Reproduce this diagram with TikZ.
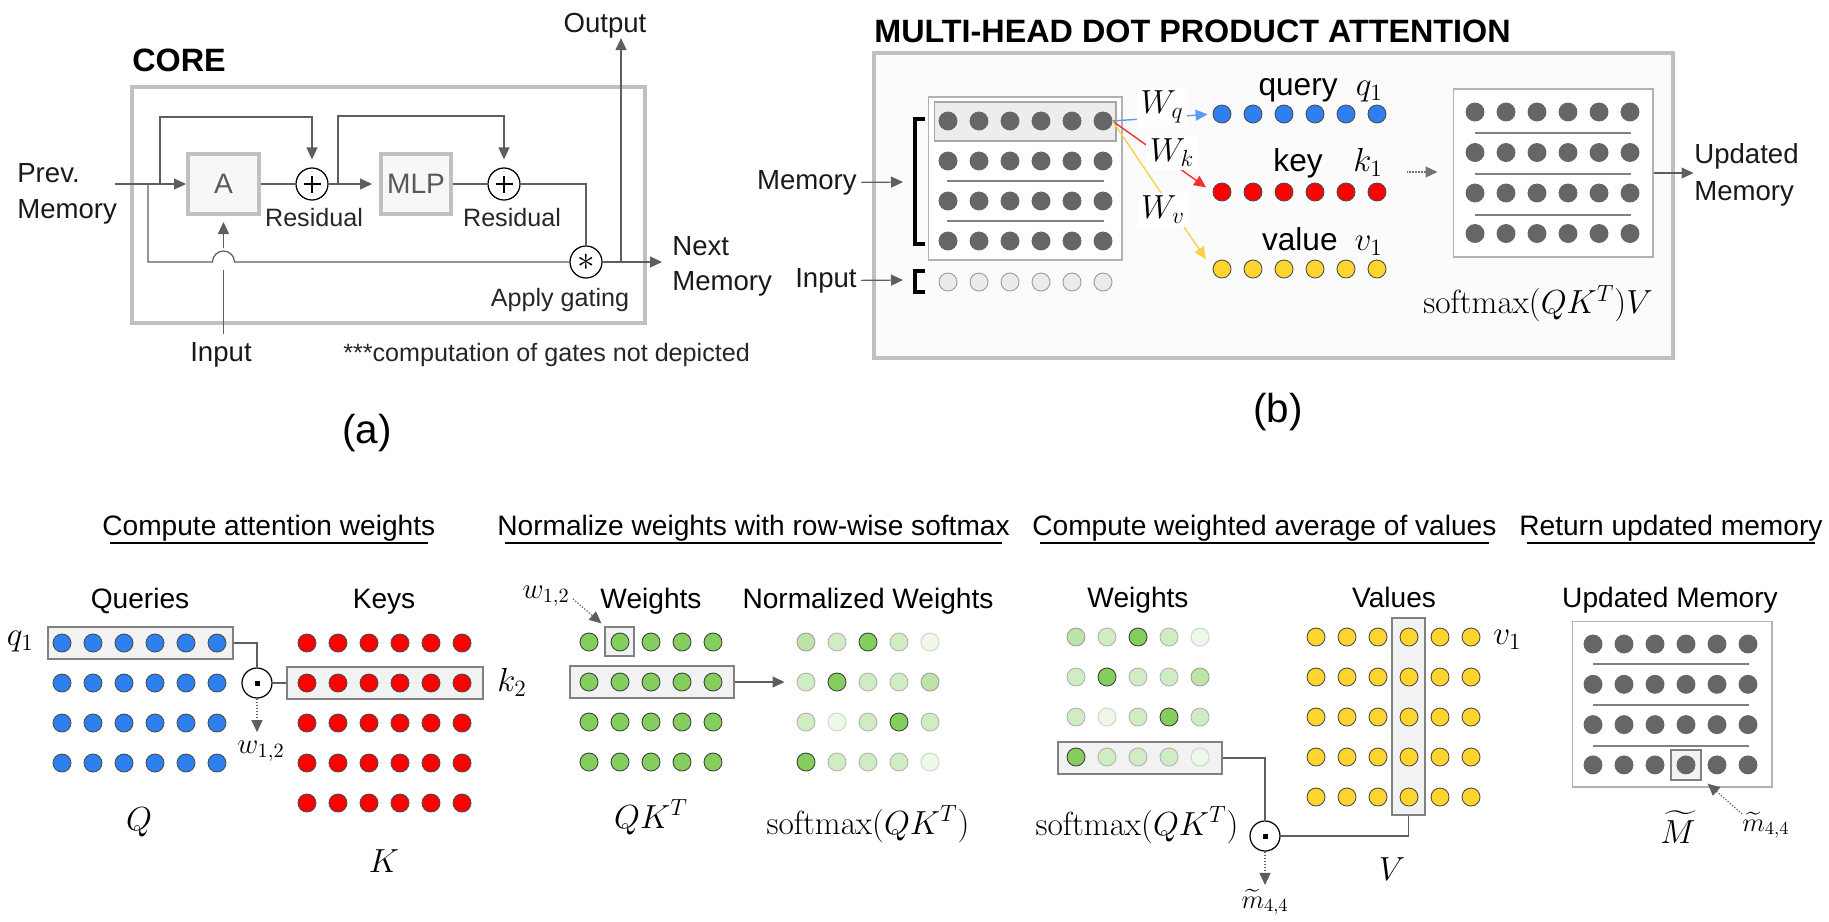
\RequirePackage{fix-cm}
\documentclass[tikz,border=0pt]{standalone}
\usepackage[no-math]{fontspec}
\setmainfont{Liberation Sans}
\usepackage{amsmath}
\usetikzlibrary{arrows.meta,calc,positioning}

\definecolor{qblue}{HTML}{2E80F0}
\definecolor{kred}{HTML}{FF0000}
\definecolor{vyellow}{HTML}{FFD42C}
\definecolor{wgreen}{HTML}{84CE5E}
\definecolor{memgray}{HTML}{666666}
\definecolor{framegray}{HTML}{C0C0C0}
\definecolor{linegray}{HTML}{5E5E5E}
\definecolor{wqblue}{HTML}{5C9CF5}
\definecolor{wkred}{HTML}{F23030}
\definecolor{wvyellow}{HTML}{F9D24A}

% shade / border of the weight dots, row by row
\newcommand{\wshades}{{55/38,38/30,100/75,38/30,15/18},{38/30,100/75,38/30,38/30,55/38},{38/30,15/18,38/30,100/75,38/30},{100/75,38/30,38/30,38/30,15/18}}

\begin{document}
\begin{tikzpicture}[x=0.02cm,y=-0.02cm,
  every node/.style={inner sep=0pt},
  conn/.style={draw=linegray, line width=0.7pt},
  arr/.style={conn, -{Triangle[length=0.24cm,width=0.22cm]}},
  dotarr/.style={draw=linegray, line width=0.7pt, densely dotted, -{Triangle[length=0.24cm,width=0.22cm]}},
  coreframe/.style={draw=framegray, line width=0.07cm},
  blk/.style={draw=framegray, line width=0.08cm, fill=black!3, text=black!65, font=\fontsize{16}{19}\selectfont},
  op/.style={circle, draw=black, line width=0.7pt, fill=white, minimum size=0.64cm, font=\fontsize{20}{20}\selectfont},
  plusop/.style={op, path picture={
      \draw[line width=1.1pt] ([xshift=-0.17cm]path picture bounding box.center) -- ([xshift=0.17cm]path picture bounding box.center)
        ([yshift=-0.17cm]path picture bounding box.center) -- ([yshift=0.17cm]path picture bounding box.center);}},
  hlbox/.style={draw=black!50, fill=black!5, line width=0.7pt},
  matbox/.style={draw=black!30, fill=white, line width=0.6pt},
  dot/.style={circle, minimum size=0.36cm, line width=0.5pt},
  qdot/.style={dot, fill=qblue, draw=black!70},
  kdot/.style={dot, fill=kred, draw=black!70},
  vdot/.style={dot, fill=vyellow, draw=black!70},
  mdot/.style={dot, fill=memgray, draw=memgray},
  idot/.style={dot, fill=black!8, draw=black!40},
  lblS/.style={font=\fontsize{14.3}{17}\selectfont, text=black!85},
  lblM/.style={font=\fontsize{15.7}{19}\selectfont, text=black!90},
  lblL/.style={font=\fontsize{18}{21}\selectfont},
  ttl/.style={font=\fontsize{18.4}{22}\selectfont\bfseries},
  sec/.style={font=\fontsize{16}{19}\selectfont},
  capt/.style={font=\fontsize{23}{27}\selectfont},
  mth/.style={font=\fontsize{19}{23}\selectfont},
  mthS/.style={font=\fontsize{16.5}{19}\selectfont},
  mthXS/.style={font=\fontsize{15}{18}\selectfont}]
\useasboundingbox (0,0) rectangle (1829,921);

% ---------------- (a) core
\node[ttl, anchor=base west] (core) at (132,71) {CORE};
\draw[coreframe] (132,87) rectangle (645,323);
\node[blk, minimum width=1.42cm, minimum height=1.2cm] (A) at (223.5,184) {A};
\node[blk, minimum width=1.40cm, minimum height=1.2cm] (mlp) at (416,184) {MLP};
\node[plusop] (res1) at (312,184) {};
\node[plusop] (res2) at (504,184) {};
\node[op] (gate) at (586,262) {$\ast$};
\node[lblS, anchor=base] (res1lbl) at (314,226) {Residual};
\node[lblS, anchor=base] (res2lbl) at (512,226) {Residual};
\node[lblS, anchor=base] (gatelbl) at (560,306) {Apply gating};
\node[lblM, anchor=base west] (prev) at (17,182) {Prev.};
\node[lblM, anchor=base west] (prevmem) at (17,218) {Memory};
\node[lblM, anchor=base west] (next) at (672,255) {Next};
\node[lblM, anchor=base west] (nextmem) at (672,290) {Memory};
\node[lblM, anchor=base] (out) at (605,32) {Output};
\node[lblM, anchor=base] (inp) at (221,361) {Input};
\node[lblS, anchor=base west] (note) at (343,361) {***computation of gates not depicted};
\node[capt, anchor=base] (capa) at (367,443) {(a)};
\coordinate (pm) at (115,184);
\coordinate (br1) at (148,184);
\coordinate (br2) at (160,184);
\coordinate (br3) at (338,184);
\coordinate (nm) at (662,262);
\coordinate (outj) at (621,262);
\draw[arr] (pm) -- (A.west);
\draw[arr, shorten >=0.16cm] (br2) -- (160,117) -| (res1.north);
\draw[conn] (A.east) -- (res1.west);
\draw[arr, shorten >=0.14cm] (res1.east) -- (mlp.west);
\draw[arr, shorten >=0.16cm] (br3) -- (338,116) -| (res2.north);
\draw[conn] (mlp.east) -- (res2.west);
\draw[conn] (res2.east) -| (gate.north);
\draw[conn] (br1) -- (148,262) -- (212.5,262) arc[start angle=180,end angle=0,radius=0.22cm] -- (gate.west);
\draw[arr] (gate.east) -- (nm);
\draw[arr] (outj) -- (outj |- out.south);
\draw[conn] ($(inp.north -| A.south)+(0,-8)$) -- (223.5,270);
\draw[arr, shorten >=0.12cm] (223.5,248) -- (A.south);

% ---------------- (b) multi-head attention
\node[ttl, anchor=base west] (mhdpa) at (874,42) {MULTI-HEAD DOT PRODUCT ATTENTION};
\draw[coreframe, fill=black!1.5] (874,53) rectangle (1673,358);
\node[lblM, anchor=base east] (memlbl) at (857,189) {Memory};
\node[lblM, anchor=base east] (inlbl) at (857,287) {Input};
\coordinate (memtip) at (903,182);
\coordinate (intip) at (903,280);
\draw[arr] ($(memlbl.east)+(4,0)$) -- (memtip);
\draw[arr] ($(inlbl.east)+(4,0)$) -- (intip);
\node[matbox, minimum width=3.88cm, minimum height=3.26cm] (membox) at (1025,178.5) {};
\node[hlbox, fill=black!7, draw=black!35, line width=0.6pt, minimum width=3.64cm, minimum height=0.78cm] (mrow) at (1025,121.5) {};
\foreach \y in {181,221}
  \draw[black!50, line width=0.6pt] (947,\y) -- (1104,\y);
\foreach \j in {1,...,4}
  \foreach \i in {1,...,6}
    \node[mdot] (m-\j-\i) at ({948+31*(\i-1)},{121+40*(\j-1)}) {};
\foreach \i in {1,...,6}
  \node[idot] (x-\i) at ({948+31*(\i-1)},282) {};
\draw[line width=0.08cm] (925,119) -- (915,119) -- (915,244) -- (925,244);
\draw[line width=0.08cm] (925,271) -- (915,271) -- (915,292) -- (925,292);
\foreach \i in {1,...,6} {
  \node[qdot] (qv-\i) at ({1222+31*(\i-1)},114) {};
  \node[kdot] (kv-\i) at ({1222+31*(\i-1)},192) {};
  \node[vdot] (vv-\i) at ({1222+31*(\i-1)},269) {};
}
\draw[draw=wqblue, line width=0.8pt, -{Triangle[length=0.24cm,width=0.22cm]}, shorten >=0.1cm] (m-1-6.east) -- (qv-1.west);
\draw[draw=wkred, line width=0.8pt, -{Triangle[length=0.24cm,width=0.22cm]}, shorten >=0.16cm] (m-1-6.east) -- (kv-1.west);
\draw[draw=wvyellow, line width=0.8pt, -{Triangle[length=0.24cm,width=0.22cm]}, shorten >=0.24cm] (m-1-6.east) -- (vv-1.west);
\node[mth, fill=white, inner sep=2pt] (wq) at (1162,107) {$W_q$};
\node[mth, fill=white, inner sep=2pt] (wk) at (1172,153) {$W_k$};
\node[mth, fill=white, inner sep=2pt] (wv) at (1163,210) {$W_v$};
\node[lblL, anchor=base east] (qtxt) at (1338,95) {query};
\node[mth, anchor=base east] (q1b) at (1383,95) {$q_1$};
\node[lblL, anchor=base east] (ktxt) at (1323,171) {key};
\node[mth, anchor=base east] (k1b) at (1383,171) {$k_1$};
\node[lblL, anchor=base east] (vtxt) at (1338,250) {value};
\node[mth, anchor=base east] (v1b) at (1383,250) {$v_1$};
\node[matbox, minimum width=4cm, minimum height=3.36cm] (upd) at (1553,173) {};
\foreach \y in {133,174,215}
  \draw[black!50, line width=0.6pt] (1475,\y) -- (1631,\y);
\foreach \j in {1,...,4}
  \foreach \i in {1,...,6}
    \node[mdot] (u-\j-\i) at ({1475+31*(\i-1)},{112+40.5*(\j-1)}) {};
\draw[dotarr, draw=black!55] ($(upd.west)+(-46,-1)$) -- ($(upd.west)+(-15,-1)$);
\draw[arr] (upd.east) -- ++(40,0) coordinate (updtip);
\node[lblM, anchor=base west] (updlbl) at (1694,163) {Updated};
\node[lblM, anchor=base west] (updlbl2) at (1694,200) {Memory};
\node[mth] (attn) at (1538,304) {$\mathrm{softmax}(QK^T)V$};
\node[capt, anchor=base] (capb) at (1278,422) {(b)};

% ---------------- section titles
\node[sec, anchor=base west] (s1) at (102,535) {Compute attention weights};
\node[sec, anchor=base west] (s2) at (497,535) {Normalize weights with row-wise softmax};
\node[sec, anchor=base west] (s3) at (1032,535) {Compute weighted average of values};
\node[sec, anchor=base west] (s4) at (1519,535) {Return updated memory};
\foreach \s in {s1,s2,s3,s4}
  \draw[line width=0.9pt] ($(\s.base west)+(8,8)$) -- ($(\s.base east)+(-8,8)$);

% ---------------- attention weights
\node[sec, anchor=base] (qlbl) at (140,608) {Queries};
\node[sec, anchor=base] (klbl) at (384,608) {Keys};
\node[hlbox, minimum width=3.7cm, minimum height=0.64cm] (qrow) at (140.5,643) {};
\node[hlbox, minimum width=3.92cm, minimum height=0.64cm] (krow) at (385,683) {};
\foreach \j in {1,...,4}
  \foreach \i in {1,...,6}
    \node[qdot] (q-\j-\i) at ({62+31*(\i-1)},{643+40*(\j-1)}) {};
\foreach \j in {1,...,5}
  \foreach \i in {1,...,6}
    \node[kdot] (k-\j-\i) at ({307+31*(\i-1)},{643+40*(\j-1)}) {};
\node[op, minimum size=0.6cm] (dp1) at (257,683) {\rule{0.1cm}{0.1cm}};
\node[mth, anchor=base east] (q1lbl) at (34,645) {$q_1$};
\node[mth, anchor=base west] (k2lbl) at (497,691) {$k_2$};
\node[mthS, anchor=base] (w12a) at (261,753) {$w_{1,2}$};
\node[mth, anchor=base] (Qlbl) at (139,830) {$Q$};
\node[mth, anchor=base] (Klbl) at (384,872) {$K$};
\draw[conn] (qrow.east) -| (dp1.north);
\draw[conn] (krow.west) -- (dp1.east);
\draw[dotarr] (dp1.south) -- ($(dp1.south |- w12a.north)+(0,-8)$);

% ---------------- softmax
\node[sec, anchor=base] (wlbl) at (651,608) {Weights};
\node[sec, anchor=base] (nwlbl) at (868,608) {Normalized Weights};
\node[hlbox, minimum width=0.58cm, minimum height=0.58cm] (wsel) at (619.5,641.5) {};
\node[hlbox, minimum width=3.28cm, minimum height=0.64cm] (wrow) at (652,682) {};
\foreach \j in {1,...,4}
  \foreach \i in {1,...,5}
    \node[dot, fill=wgreen, draw=black!75] (w-\j-\i) at ({589+31*(\i-1)},{642+40*(\j-1)}) {};
\foreach \row [count=\j] in \wshades
  \foreach \p/\d [count=\i] in \row
    \node[dot, fill=wgreen!\p!white, draw=black!\d] (n-\j-\i) at ({806+31*(\i-1)},{642+40*(\j-1)}) {};
\node[mthS, anchor=base east] (w12b) at (570,598) {$w_{1,2}$};
\draw[dotarr] ($(w12b.east)+(3,3)$) -- ($(wsel.north west)+(-3,-3)$);
\draw[arr] (wrow.east) -- ($(n-2-1.west)+(-12,0)$);
\node[mth, anchor=base] (qkt) at (651,828) {$QK^T$};
\node[mth, anchor=base] (smx1) at (868,834) {$\mathrm{softmax}(QK^T)$};

% ---------------- weighted average
\node[sec, anchor=base] (w2lbl) at (1138,607) {Weights};
\node[sec, anchor=base] (vlbl) at (1394,607) {Values};
\node[hlbox, minimum width=3.28cm, minimum height=0.64cm] (w4row) at (1140,758) {};
\node[hlbox, minimum width=0.66cm, minimum height=3.94cm] (vcol) at (1408.5,716.5) {};
\foreach \row [count=\j] in \wshades
  \foreach \p/\d [count=\i] in \row
    \node[dot, fill=wgreen!\p!white, draw=black!\d] (a-\j-\i) at ({1076+31*(\i-1)},{637+40*(\j-1)}) {};
\foreach \j in {1,...,5}
  \foreach \i in {1,...,6}
    \node[vdot] (v-\j-\i) at ({1316+31*(\i-1)},{637+40*(\j-1)}) {};
\node[op, minimum size=0.6cm] (dp2) at (1265,836) {\rule{0.1cm}{0.1cm}};
\node[mth, anchor=base west] (v1lbl) at (1493,644) {$v_1$};
\node[mth, anchor=base] (smx2) at (1137,835) {$\mathrm{softmax}(QK^T)$};
\node[mth, anchor=base] (Vlbl) at (1392,880) {$V$};
\node[mthXS, anchor=base] (m44a) at (1265,908) {$\widetilde{m}_{4,4}$};
\draw[conn] (w4row.east) -| (dp2.north);
\draw[conn] (vcol.south) |- (dp2.east);
\draw[dotarr] (dp2.south) -- ($(dp2.south |- m44a.north)+(0,-4)$);

% ---------------- updated memory
\node[sec, anchor=base] (umlbl) at (1670,607) {Updated Memory};
\node[matbox, minimum width=4cm, minimum height=3.32cm] (mbox) at (1672,704) {};
\foreach \y in {664,705,746}
  \draw[black!50, line width=0.6pt] (1593,\y) -- (1749,\y);
\node[hlbox, minimum width=0.6cm, minimum height=0.6cm] (msel) at (1686,765) {};
\foreach \j in {1,...,4}
  \foreach \i in {1,...,6}
    \node[mdot] (r-\j-\i) at ({1593+31*(\i-1)},{644+40.3*(\j-1)}) {};
\node[mth, anchor=base] (Mlbl) at (1678,843) {$\widetilde{M}$};
\node[mthXS, anchor=base west] (m44b) at (1742,831) {$\widetilde{m}_{4,4}$};
\draw[dotarr] ($(m44b.north west)+(0,2)$) -- ($(msel.south east)+(6,3)$);
\end{tikzpicture}
\end{document}
